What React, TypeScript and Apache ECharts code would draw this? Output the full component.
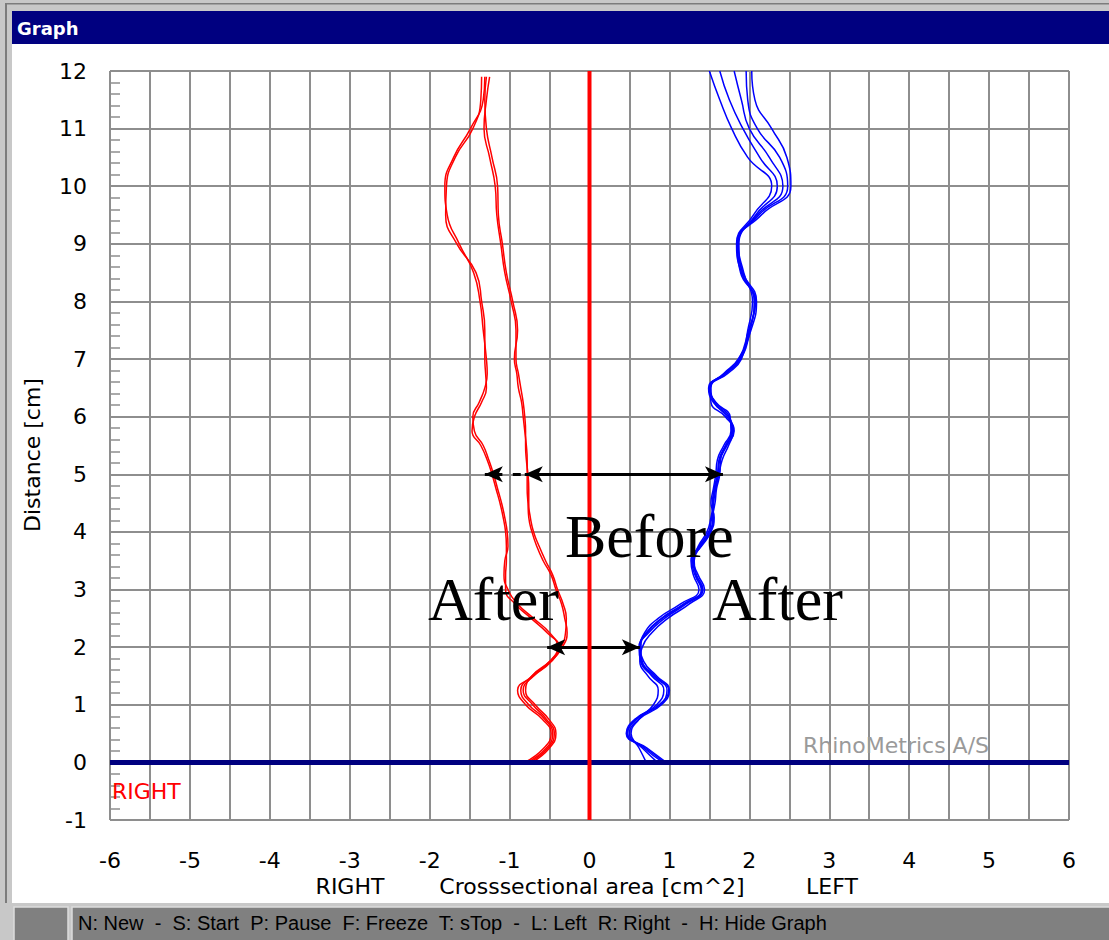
import React, { useEffect, useRef } from "react";
import * as echarts from "echarts";

// Distance levels (cm) at which the traces were read
const distanceRed = [0, 0.25, 0.5, 0.75, 1, 1.25, 1.5, 1.75, 2, 2.25, 2.5, 2.75, 3, 3.25, 3.5, 3.75, 4, 4.25, 4.5, 4.75, 5, 5.25, 5.5, 5.75, 6, 6.25, 6.5, 6.75, 7, 7.5, 8, 8.5, 9, 9.5, 10, 10.5, 11, 11.5, 11.9];
const distanceBlue = [0, 0.25, 0.5, 0.75, 1, 1.25, 1.5, 1.75, 2, 2.25, 2.5, 2.75, 3, 3.25, 3.5, 3.75, 4, 4.25, 4.5, 4.75, 5, 5.25, 5.5, 5.75, 6, 6.25, 6.5, 6.75, 7, 7.5, 8, 8.5, 9, 9.5, 10, 10.5, 11, 11.5, 12];

// Right side (negative area) traces
const redAfter1 = [-0.81, -0.57, -0.48, -0.59, -0.80, -0.90, -0.70, -0.48, -0.38, -0.53, -0.73, -0.93, -1.05, -1.05, -1.04, -1.04, -1.05, -1.08, -1.12, -1.17, -1.22, -1.28, -1.36, -1.47, -1.44, -1.35, -1.29, -1.30, -1.31, -1.31, -1.35, -1.42, -1.66, -1.80, -1.79, -1.68, -1.46, -1.36, -1.35];
const redAfter2 = [-0.78, -0.54, -0.46, -0.56, -0.76, -0.86, -0.72, -0.50, -0.40, -0.50, -0.70, -0.90, -1.02, -1.07, -1.06, -1.02, -1.03, -1.06, -1.10, -1.15, -1.20, -1.26, -1.33, -1.44, -1.46, -1.38, -1.31, -1.28, -1.29, -1.33, -1.37, -1.45, -1.63, -1.78, -1.81, -1.70, -1.49, -1.33, -1.31];
const redBefore1 = [-0.75, -0.52, -0.44, -0.54, -0.71, -0.83, -0.70, -0.48, -0.34, -0.28, -0.31, -0.35, -0.42, -0.48, -0.58, -0.66, -0.72, -0.76, -0.77, -0.78, -0.78, -0.78, -0.79, -0.81, -0.83, -0.85, -0.89, -0.91, -0.94, -0.90, -0.96, -1.04, -1.09, -1.14, -1.15, -1.22, -1.29, -1.31, -1.29];
const redBefore2 = [-0.72, -0.50, -0.42, -0.51, -0.68, -0.80, -0.72, -0.50, -0.36, -0.30, -0.29, -0.33, -0.40, -0.46, -0.55, -0.63, -0.70, -0.74, -0.76, -0.76, -0.77, -0.79, -0.80, -0.80, -0.81, -0.83, -0.86, -0.89, -0.92, -0.92, -0.98, -1.06, -1.11, -1.16, -1.18, -1.25, -1.32, -1.29, -1.25];

// Left side (positive area) traces
const blue1 = [0.96, 0.72, 0.47, 0.59, 0.88, 0.97, 0.80, 0.65, 0.63, 0.71, 0.90, 1.18, 1.40, 1.32, 1.28, 1.38, 1.50, 1.54, 1.54, 1.56, 1.60, 1.62, 1.70, 1.79, 1.74, 1.55, 1.49, 1.70, 1.88, 2.00, 2.07, 1.90, 1.84, 2.05, 2.28, 1.98, 1.78, 1.63, 1.50];
const blue2 = [0.71, 0.62, 0.52, 0.62, 0.80, 0.86, 0.73, 0.63, 0.66, 0.78, 0.98, 1.25, 1.44, 1.36, 1.30, 1.36, 1.47, 1.52, 1.55, 1.58, 1.62, 1.66, 1.74, 1.80, 1.70, 1.52, 1.51, 1.73, 1.90, 1.98, 2.04, 1.93, 1.86, 2.08, 2.35, 2.13, 1.92, 1.75, 1.63];
const blue3 = [0.92, 0.68, 0.50, 0.62, 0.90, 1.00, 0.84, 0.68, 0.64, 0.69, 0.86, 1.14, 1.37, 1.30, 1.27, 1.40, 1.52, 1.56, 1.52, 1.55, 1.58, 1.60, 1.68, 1.77, 1.76, 1.58, 1.50, 1.68, 1.86, 2.02, 2.09, 1.92, 1.85, 2.10, 2.42, 2.25, 2.00, 1.90, 1.81];
const blue4 = [0.85, 0.66, 0.48, 0.58, 0.84, 0.93, 0.78, 0.64, 0.62, 0.74, 0.94, 1.21, 1.42, 1.34, 1.29, 1.37, 1.49, 1.53, 1.57, 1.59, 1.63, 1.64, 1.72, 1.81, 1.72, 1.56, 1.52, 1.71, 1.89, 2.01, 2.06, 1.91, 1.87, 2.12, 2.48, 2.38, 2.10, 1.98, 1.96];
const blue5 = [0.94, 0.70, 0.46, 0.57, 0.87, 0.99, 0.82, 0.66, 0.64, 0.72, 0.91, 1.19, 1.41, 1.33, 1.31, 1.39, 1.51, 1.55, 1.55, 1.57, 1.61, 1.63, 1.71, 1.78, 1.75, 1.57, 1.50, 1.69, 1.87, 1.99, 2.08, 1.89, 1.85, 2.15, 2.52, 2.47, 2.28, 2.07, 2.03];

// Reference lines
const centerLineX = [0, 0];
const centerLineY = [-1, 12];
const baseLineX = [-6, 6];
const baseLineY = [0, 0];

// Arrows: [x1, x2, y, startSymbol, endSymbol]
const arrows: [number, number, number, string, string][] = [
  [-0.81, 1.67, 5, "arrow", "arrow"],
  [-1.31, -1.09, 5, "arrow", "none"],
  [-0.96, -0.86, 5, "none", "none"],
  [-0.53, 0.63, 2, "arrow", "arrow"],
];

const GRID = "#8e8e8e";
const AXIS_FONT = "DejaVu Sans";

function pairs(xs: number[], ys: number[]) {
  return xs.map((x, i) => [x, ys[i]]);
}

function trace(name: string, xs: number[], ys: number[], color: string) {
  return {
    type: "line",
    name,
    data: pairs(xs, ys),
    showSymbol: false,
    smooth: 0.5,
    silent: true,
    z: 3,
    lineStyle: { color, width: 1.5 },
  };
}

export default function App() {
  const ref = useRef<HTMLDivElement>(null);

  useEffect(() => {
    document.body.style.margin = "0";
    const chart = echarts.init(ref.current!, undefined, { renderer: "svg" });
    const option: any = {
      animation: false,
      backgroundColor: "#ffffff",
      grid: { left: 110, right: 40, top: 71, bottom: 120 },
      xAxis: {
        type: "value",
        min: -6,
        max: 6,
        interval: 1,
        axisLine: { show: false },
        axisTick: { show: true, length: 20, lineStyle: { color: GRID, width: 2 } },
        axisLabel: { margin: 29, fontSize: 22, fontFamily: AXIS_FONT, color: "#000" },
        splitLine: { show: true, lineStyle: { color: GRID, width: 2 } },
        minorTick: { show: false, splitNumber: 2 },
        minorSplitLine: { show: true, lineStyle: { color: GRID, width: 2 } },
      },
      yAxis: [
        {
          type: "value",
          min: -1,
          max: 12,
          interval: 1,
          position: "left",
          axisLine: { show: false },
          axisTick: { show: true, length: 10, lineStyle: { color: GRID, width: 2 } },
          axisLabel: { margin: 23, fontSize: 22, fontFamily: AXIS_FONT, color: "#000" },
          splitLine: { show: true, lineStyle: { color: GRID, width: 2 } },
        },
        {
          type: "value",
          min: -1,
          max: 12,
          interval: 0.2,
          position: "left",
          offset: 0,
          axisLine: { show: false },
          axisTick: { show: true, inside: true, length: 10, lineStyle: { color: GRID, width: 1.5 } },
          axisLabel: { show: false },
          splitLine: { show: false },
        },
      ],
      series: [
        trace("After R1", redAfter1, distanceRed, "#ff0000"),
        trace("After R2", redAfter2, distanceRed, "#ff0000"),
        trace("Before R1", redBefore1, distanceRed, "#ff0000"),
        trace("Before R2", redBefore2, distanceRed, "#ff0000"),
        trace("L1", blue1, distanceBlue, "#0000ff"),
        trace("L2", blue2, distanceBlue, "#0000ff"),
        trace("L3", blue3, distanceBlue, "#0000ff"),
        trace("L4", blue4, distanceBlue, "#0000ff"),
        trace("L5", blue5, distanceBlue, "#0000ff"),
        {
          type: "line",
          name: "baseline",
          data: pairs(baseLineX, baseLineY),
          showSymbol: false,
          silent: true,
          z: 4,
          lineStyle: { color: "#000080", width: 5 },
          markLine: {
            silent: true,
            symbolSize: [12, 18],
            label: { show: false },
            lineStyle: { color: "#000000", width: 3, type: "solid" },
            data: arrows.map(([x1, x2, y, s1, s2]) => [
              { coord: [x1, y], symbol: s1 },
              { coord: [x2, y], symbol: s2 },
            ]),
          },
        },
        {
          type: "line",
          name: "center",
          data: pairs(centerLineX, centerLineY),
          showSymbol: false,
          silent: true,
          z: 5,
          lineStyle: { color: "#ff0000", width: 4 },
        },
      ],
      graphic: [
        // window chrome
        { type: "rect", shape: { x: 0, y: 0, width: 12, height: 940 }, style: { fill: "#c8c8c8" }, silent: true },
        { type: "rect", shape: { x: 0, y: 0, width: 1109, height: 11 }, style: { fill: "#c8c8c8" }, silent: true },
        { type: "rect", shape: { x: 5, y: 3, width: 2, height: 937 }, style: { fill: "#7c7c7c" }, silent: true },
        { type: "rect", shape: { x: 5, y: 3, width: 1104, height: 1.5 }, style: { fill: "#7c7c7c" }, silent: true },
        { type: "rect", shape: { x: 12, y: 11, width: 1097, height: 33 }, style: { fill: "#000080" }, silent: true },
        {
          type: "text",
          x: 17,
          y: 28,
          silent: true,
          style: { text: "Graph", fill: "#ffffff", font: "bold 18px 'DejaVu Sans'", textVerticalAlign: "middle" },
        },
        { type: "rect", shape: { x: 0, y: 903, width: 1109, height: 37 }, style: { fill: "#c8c8c8" }, silent: true },
        { type: "rect", shape: { x: 14, y: 907, width: 54, height: 34 }, style: { fill: "#808080", stroke: "#dcdcdc", lineWidth: 1.5 }, silent: true },
        { type: "rect", shape: { x: 72, y: 907, width: 1040, height: 34 }, style: { fill: "#808080", stroke: "#dcdcdc", lineWidth: 1.5 }, silent: true },
        {
          type: "text",
          x: 78,
          y: 923,
          silent: true,
          style: {
            text: "N: New  -  S: Start  P: Pause  F: Freeze  T: sTop  -  L: Left  R: Right  -  H: Hide Graph",
            fill: "#000000",
            font: "20px 'Liberation Sans'",
            textVerticalAlign: "middle",
          },
        },
        // axis texts
        {
          type: "text",
          x: 32,
          y: 455,
          rotation: Math.PI / 2,
          silent: true,
          style: { text: "Distance [cm]", fill: "#000", font: `22px '${AXIS_FONT}'`, textAlign: "center", textVerticalAlign: "middle" },
        },
        {
          type: "text",
          x: 350,
          y: 886,
          silent: true,
          style: { text: "RIGHT", fill: "#000", font: `22px '${AXIS_FONT}'`, textAlign: "center", textVerticalAlign: "middle" },
        },
        {
          type: "text",
          x: 592,
          y: 886,
          silent: true,
          style: { text: "Crosssectional area [cm^2]", fill: "#000", font: `22px '${AXIS_FONT}'`, textAlign: "center", textVerticalAlign: "middle" },
        },
        {
          type: "text",
          x: 832,
          y: 886,
          silent: true,
          style: { text: "LEFT", fill: "#000", font: `22px '${AXIS_FONT}'`, textAlign: "center", textVerticalAlign: "middle" },
        },
        {
          type: "text",
          x: 112,
          y: 791,
          z: 10,
          silent: true,
          style: { text: "RIGHT", fill: "#ff0000", font: `22px '${AXIS_FONT}'`, textVerticalAlign: "middle" },
        },
        {
          type: "text",
          x: 803,
          y: 745,
          z: 10,
          silent: true,
          style: { text: "RhinoMetrics A/S", fill: "#9a9a9a", font: `22px '${AXIS_FONT}'`, textVerticalAlign: "middle" },
        },
        // annotations
        {
          type: "text",
          x: 565,
          y: 536,
          z: 20,
          silent: true,
          style: { text: "Before", fill: "#000", font: "62px 'Liberation Serif'", textVerticalAlign: "middle" },
        },
        {
          type: "text",
          x: 428,
          y: 599,
          z: 20,
          silent: true,
          style: { text: "After", fill: "#000", font: "62px 'Liberation Serif'", textVerticalAlign: "middle" },
        },
        {
          type: "text",
          x: 712,
          y: 599,
          z: 20,
          silent: true,
          style: { text: "After", fill: "#000", font: "62px 'Liberation Serif'", textVerticalAlign: "middle" },
        },
      ],
    };
    chart.setOption(option);
    return () => chart.dispose();
  }, []);

  return <div ref={ref} style={{ width: 1109, height: 940 }} />;
}
